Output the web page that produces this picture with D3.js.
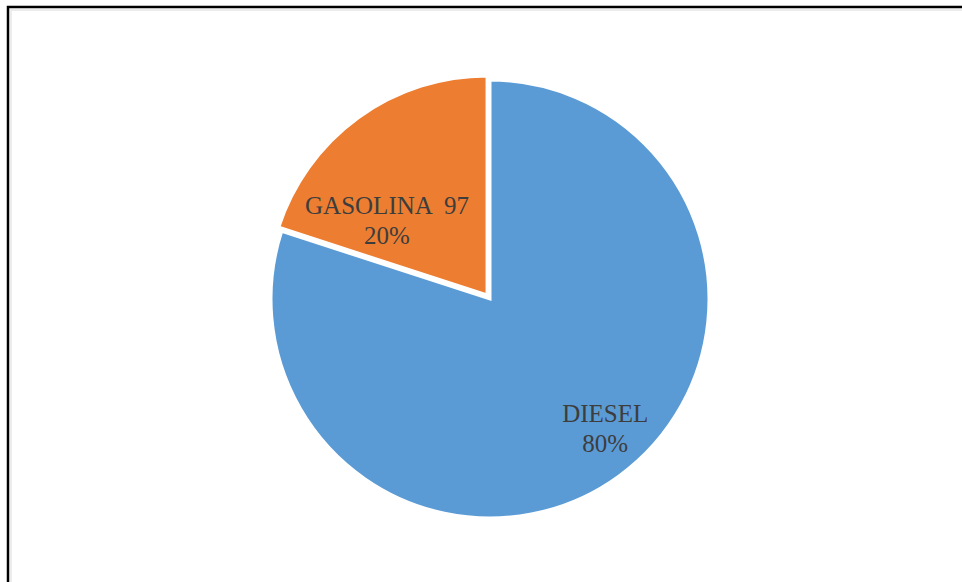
<!DOCTYPE html>
<html>
<head>
<meta charset="utf-8">
<script src="https://cdn.jsdelivr.net/npm/d3@7/dist/d3.min.js"></script>
<style>
  html, body { margin: 0; padding: 0; background: #fff; }
  svg { display: block; }
  text { white-space: pre; }
</style>
</head>
<body>
<svg id="chart" width="962" height="582"></svg>
<script>
// Fuel share by type
const categories = ["DIESEL", "GASOLINA  97"];
const values = [80, 20];
const percentLabels = ["80%", "20%"];
const colors = ["#5B9BD5", "#ED7D31"];
// Where each label sits inside its slice: fraction along the slice's angle, fraction of radius
const labelAlong = [0.48, 0.26];
const labelRadius = [0.79, 0.57];
const explode = [0, 5];

const width = 962, height = 582;
const svg = d3.select("#chart");

// Frame around the chart area
svg.append("rect")
  .attr("x", 8).attr("y", 7)
  .attr("width", width + 10).attr("height", height + 10)
  .attr("fill", "none")
  .attr("stroke", "#000")
  .attr("stroke-width", 2.5);
svg.append("path")
  .attr("d", `M11,${height} V10 H${width}`)
  .attr("fill", "none")
  .attr("stroke", "#ececec")
  .attr("stroke-width", 2);

const cx = 490, cy = 299, R = 219;
const g = svg.append("g").attr("transform", `translate(${cx},${cy})`);

const data = categories.map((c, i) => ({ name: c, value: values[i], pct: percentLabels[i], i }));

const pie = d3.pie().value(d => d.value).sort(null);
const arcs = pie(data);
const arc = d3.arc().innerRadius(0).outerRadius(R);

const slice = g.selectAll("g.slice")
  .data(arcs)
  .join("g")
  .attr("class", "slice")
  .attr("transform", d => {
    const mid = (d.startAngle + d.endAngle) / 2;
    const e = explode[d.data.i];
    return `translate(${Math.sin(mid) * e},${-Math.cos(mid) * e})`;
  });

slice.append("path")
  .attr("d", arc)
  .attr("fill", d => colors[d.data.i])
  .attr("stroke", "#fff")
  .attr("stroke-width", 3)
  .attr("stroke-linejoin", "miter");

const label = slice.append("text")
  .attr("transform", d => {
    const a = d.startAngle + (d.endAngle - d.startAngle) * labelAlong[d.data.i];
    const r = R * labelRadius[d.data.i];
    return `translate(${Math.sin(a) * r},${-Math.cos(a) * r})`;
  })
  .attr("text-anchor", "middle")
  .attr("font-family", "'Liberation Serif', 'Times New Roman', serif")
  .attr("font-size", 25)
  .attr("fill", "#3d3d3d");

label.append("tspan")
  .attr("x", 0).attr("dy", "-0.25em")
  .text(d => d.data.name);
label.append("tspan")
  .attr("x", 0).attr("dy", "1.2em")
  .text(d => d.data.pct);
</script>
</body>
</html>
